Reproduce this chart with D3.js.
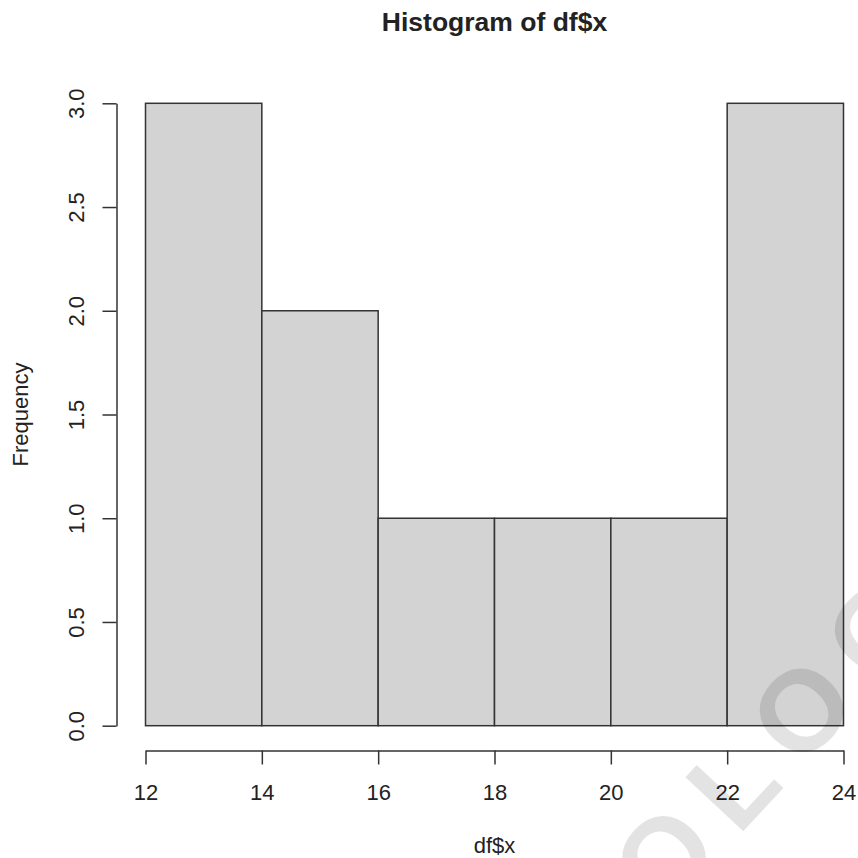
<!DOCTYPE html>
<html>
<head>
<meta charset="utf-8">
<script src="https://cdn.jsdelivr.net/npm/d3@7"></script>
<style>
  html, body { margin: 0; padding: 0; background: #fff; }
  svg { display: block; }
  text { font-family: "Liberation Sans", Arial, Helvetica, sans-serif; fill: #222; }
</style>
</head>
<body>
<svg id="chart" width="858" height="858"></svg>
<script>
// ---- data ----
const binStarts = [12, 14, 16, 18, 20, 22];
const binEnds   = [14, 16, 18, 20, 22, 24];
const counts    = [3, 2, 1, 1, 1, 3];
const xTicks    = [12, 14, 16, 18, 20, 22, 24];
const yTicks    = [0, 0.5, 1, 1.5, 2, 2.5, 3];
const titleText = "Histogram of df$x";
const xLabel    = "df$x";
const yLabel    = "Frequency";
const watermarkText = "OLOG";

// ---- layout ----
const svg = d3.select("#chart");
const x = d3.scaleLinear().domain([12, 24]).range([145.5, 843.5]);
const y = d3.scaleLinear().domain([0, 3]).range([725.7, 103.3]);
const lineColor = "#333";

// bars
svg.append("g").selectAll("rect")
  .data(counts)
  .join("rect")
  .attr("x", (d, i) => x(binStarts[i]))
  .attr("width", (d, i) => x(binEnds[i]) - x(binStarts[i]))
  .attr("y", d => y(d))
  .attr("height", d => y(0) - y(d))
  .attr("fill", "#d3d3d3")
  .attr("stroke", lineColor)
  .attr("stroke-width", 1.5);

// x axis
const xAxis = svg.append("g")
  .attr("transform", "translate(0,750.5)")
  .call(d3.axisBottom(x).tickValues(xTicks).tickSize(14).tickSizeOuter(0).tickFormat(d3.format("d")));
xAxis.select(".domain").attr("stroke", lineColor).attr("stroke-width", 1.5);
xAxis.selectAll(".tick line").attr("stroke", lineColor).attr("stroke-width", 1.5);
xAxis.selectAll(".tick text")
  .attr("y", 49.5).attr("dy", 0)
  .style("font-size", "22px").style("font-family", "'Liberation Sans', Arial, sans-serif").attr("fill", "#222");

// y axis
const yAxis = svg.append("g")
  .attr("transform", "translate(116.5,0)")
  .call(d3.axisLeft(y).tickValues(yTicks).tickSize(14).tickSizeOuter(0).tickFormat(d3.format(".1f")));
yAxis.select(".domain").attr("stroke", lineColor).attr("stroke-width", 1.5);
yAxis.selectAll(".tick line").attr("stroke", lineColor).attr("stroke-width", 1.5);
yAxis.selectAll(".tick text")
  .attr("x", 0).attr("y", 0).attr("dy", 0)
  .attr("text-anchor", "middle")
  .attr("transform", "translate(-32.5,0) rotate(-90)")
  .style("font-size", "22px").style("font-family", "'Liberation Sans', Arial, sans-serif").attr("fill", "#222");

// title
svg.append("text")
  .attr("x", 494.5).attr("y", 31)
  .attr("text-anchor", "middle")
  .style("font-size", "26.5px").style("font-weight", "bold")
  .text(titleText);

// axis labels
svg.append("text")
  .attr("x", 494.5).attr("y", 853)
  .attr("text-anchor", "middle")
  .style("font-size", "22px")
  .text(xLabel);

svg.append("text")
  .attr("transform", "translate(28,414.5) rotate(-90)")
  .attr("text-anchor", "middle")
  .style("font-size", "22px")
  .text(yLabel);

// watermark (partly outside the picture, as in the source)
svg.append("g")
  .attr("transform", "translate(762,811) rotate(-47)")
  .style("pointer-events", "none")
  .append("text")
  .attr("x", -145.6)
  .attr("y", 0)
  .attr("text-anchor", "start")
  .style("font-size", "115px")
  .style("font-weight", "bold")
  .style("letter-spacing", "21px")
  .style("fill", "#000")
  .style("fill-opacity", 0.11)
  .text(watermarkText);
</script>
</body>
</html>
